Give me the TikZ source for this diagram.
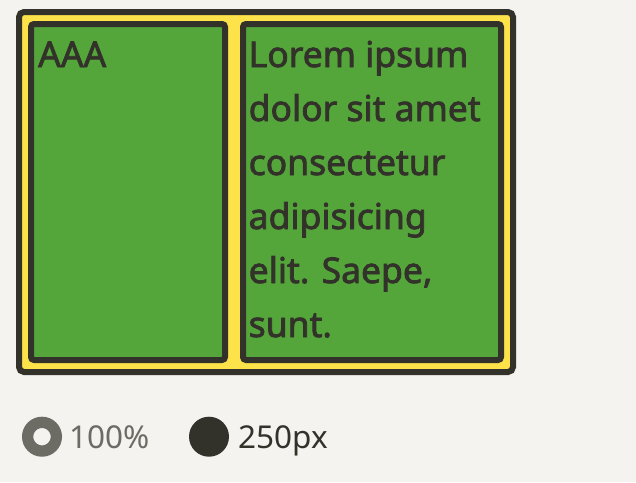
\documentclass[tikz,border=0pt]{standalone}
\usepackage{fontspec}
\setmainfont{Noto Sans}
\newfontfamily\boxfont[FakeBold=2.2]{Noto Sans}
\usetikzlibrary{positioning}
\definecolor{paper}{HTML}{F4F3EF}
\definecolor{ink}{HTML}{33322A}
\definecolor{sun}{HTML}{FDE24A}
\definecolor{leaf}{HTML}{54A63B}
\definecolor{mute}{HTML}{6C6B64}

\begin{document}
\begin{tikzpicture}[x=1pt, y=-1pt,
    frame/.style={draw=ink, line width=6pt, fill=sun, rounded corners=5pt,
      anchor=north west, inner sep=0pt, outer sep=0pt},
    item/.style={draw=ink, line width=6pt, fill=leaf, rounded corners=3pt,
      anchor=north west, inner sep=0pt, outer sep=0pt},
    itemtext/.style={anchor=base west, inner sep=0pt, text=ink, align=left,
      font=\boxfont\fontsize{35.5}{54}\selectfont},
    legendtext/.style={anchor=base west, inner sep=0pt,
      font=\fontsize{31.5}{36}\selectfont}]
    \path[fill=paper, use as bounding box] (0,0) rectangle (636,482);

    % container and its two items
    \node[frame, minimum width=494pt, minimum height=360pt] (box) at (19,12) {};
    \node[item, minimum width=194pt, minimum height=336pt] (first) at (31,24) {};
    \node[item, minimum width=258pt, minimum height=336pt] (second) at (243,24) {};

    % base of a multi-line node is its last line
    \node[itemtext] (firsttext) at (38,67) {AAA};
    \node[itemtext] (secondtext) at (248.5,337)
      {Lorem ipsum\\dolor sit amet\\consectetur\\adipisicing\\elit. Saepe,\\sunt.};

    % legend
    \node[circle, draw=mute, fill=paper, line width=11.3pt, minimum size=28.7pt,
      inner sep=0pt] (ring) at (42,436.7) {};
    \node[legendtext, text=mute] (ratio) at (69,448) {100\%};
    \node[circle, fill=ink, minimum size=40pt, inner sep=0pt] (dot) at (209,436.7) {};
    \node[legendtext, text=ink] (size) at (238.5,448) {250px};
\end{tikzpicture}
\end{document}
